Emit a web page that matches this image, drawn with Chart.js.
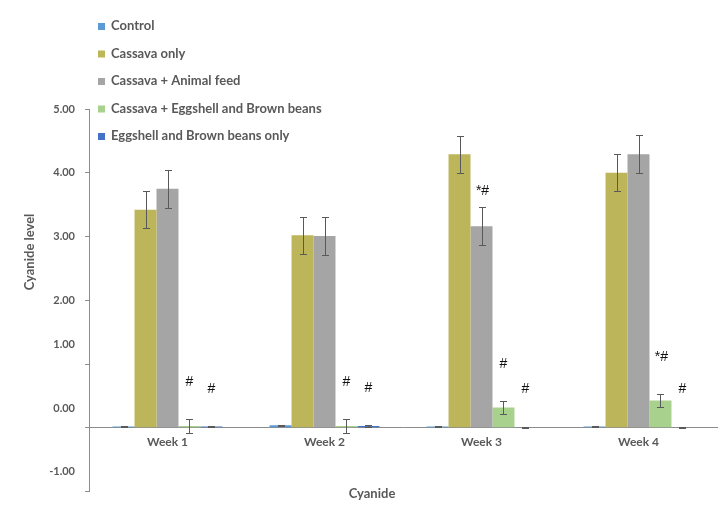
<!DOCTYPE html>
<html>
<head>
<meta charset="utf-8">
<title>Cyanide level</title>
<script src="https://cdn.jsdelivr.net/npm/chart.js@4.4.1/dist/chart.umd.min.js"></script>
<style>
  html, body { margin: 0; padding: 0; background: #fff; }
  #wrap { position: relative; width: 721px; height: 528px; }
</style>
</head>
<body>
<div id="wrap"><canvas id="cyanide-chart"></canvas></div>
<script>
// Cyanide level per group over four weeks (mean ± error)
const weeks = ['Week 1', 'Week 2', 'Week 3', 'Week 4'];
const groupNames = [
  'Control',
  'Cassava only',
  'Cassava + Animal feed',
  'Cassava + Eggshell and Brown beans',
  'Eggshell and Brown beans only'
];
const groupColors = ['#5b9bd5', '#bdb55a', '#a5a5a5', '#a9d18e', '#4472c4'];

const control = [0.02, 0.04, 0.02, 0.02];
const cassavaOnly = [3.42, 3.02, 4.29, 4.00];
const cassavaFeed = [3.75, 3.01, 3.16, 4.29];
const cassavaEggshell = [0.03, 0.03, 0.32, 0.43];
const eggshellOnly = [0.02, 0.03, 0.01, 0.01];

const controlErr = [0.01, 0.01, 0.01, 0.01];
const cassavaOnlyErr = [0.29, 0.29, 0.29, 0.29];
const cassavaFeedErr = [0.30, 0.30, 0.30, 0.30];
const cassavaEggshellErr = [0.11, 0.11, 0.10, 0.10];
const eggshellOnlyErr = [0.01, 0.01, 0.01, 0.01];

const yTicks = [-1, 0, 1, 2, 3, 4, 5];

// significance marks: week index, group index, text
const marks = [
  [0, 3, '#'], [0, 4, '#'],
  [1, 3, '#'], [1, 4, '#'],
  [2, 2, '*#'], [2, 3, '#'], [2, 4, '#'],
  [3, 3, '*#'], [3, 4, '#']
];

const values = [control, cassavaOnly, cassavaFeed, cassavaEggshell, eggshellOnly];
const errors = [controlErr, cassavaOnlyErr, cassavaFeedErr, cassavaEggshellErr, eggshellOnlyErr];

const textGrey = '#595959';
const axisGrey = '#8c8c8c';
const labelFont = { family: 'Lato', weight: 'bold', size: 12 };

const errorBars = {
  id: 'errorBars',
  afterDatasetsDraw(chart) {
    const y = chart.scales.y;
    const ctx = chart.ctx;
    ctx.save();
    ctx.strokeStyle = '#595959';
    ctx.lineWidth = 1;
    chart.data.datasets.forEach((ds, i) => {
      chart.getDatasetMeta(i).data.forEach((bar, j) => {
        const v = ds.data[j], e = errors[i][j];
        const top = Math.round(y.getPixelForValue(v + e)) + 0.5;
        const bot = Math.round(y.getPixelForValue(v - e)) + 0.5;
        const x = Math.round(bar.x) + 0.5;
        ctx.beginPath();
        ctx.moveTo(x, top); ctx.lineTo(x, bot);
        ctx.moveTo(x - 3.5, top); ctx.lineTo(x + 3.5, top);
        ctx.moveTo(x - 3.5, bot); ctx.lineTo(x + 3.5, bot);
        ctx.stroke();
      });
    });

    // marks above the bars; the tall feed bar gets a tighter gap
    ctx.fillStyle = '#111';
    ctx.font = '14px "Liberation Sans"';
    ctx.textAlign = 'center';
    ctx.textBaseline = 'middle';
    marks.forEach(([w, g, text]) => {
      const bar = chart.getDatasetMeta(g).data[w];
      const v = values[g][w] + errors[g][w];
      const lift = v > 1 ? 16 : 37;
      ctx.fillText(text, bar.x + (text.length > 1 ? 1 : 0), y.getPixelForValue(v) - lift);
    });
    ctx.restore();
  }
};

const legendAndTitles = {
  id: 'legendAndTitles',
  afterDraw(chart) {
    const ctx = chart.ctx;
    ctx.save();
    ctx.font = 'bold 13px Lato';
    ctx.textBaseline = 'middle';
    chart.data.datasets.forEach((ds, i) => {
      const cy = 26 + i * 27.5;
      ctx.fillStyle = ds.backgroundColor;
      ctx.fillRect(98, cy - 3, 7, 7);
      ctx.fillStyle = textGrey;
      ctx.textAlign = 'left';
      ctx.fillText(ds.label, 111, cy);
    });

    ctx.textAlign = 'center';
    ctx.fillText('Cyanide', 372, 494);
    ctx.translate(30, 252);
    ctx.rotate(-Math.PI / 2);
    ctx.fillText('Cyanide level', 0, 0);
    ctx.restore();
  }
};

new Chart(document.getElementById('cyanide-chart'), {
  type: 'bar',
  data: {
    labels: weeks,
    datasets: values.map((data, i) => ({
      label: groupNames[i],
      data: data,
      backgroundColor: groupColors[i],
      borderWidth: 0,
      categoryPercentage: 0.7,
      barPercentage: 1.0
    }))
  },
  options: {
    responsive: true,
    maintainAspectRatio: false,
    animation: false,
    layout: { padding: { left: 0, top: 109, right: 4, bottom: 35 } },
    plugins: {
      legend: { display: false },
      tooltip: { enabled: false }
    },
    scales: {
      x: {
        position: { y: 0 },
        grid: { display: false, drawTicks: false },
        border: { color: axisGrey },
        ticks: { color: textGrey, font: labelFont, padding: 7 }
      },
      y: {
        min: -1,
        max: 5,
        afterBuildTicks: (scale) => { scale.ticks = yTicks.map((v) => ({ value: v })); },
        afterFit: (scale) => { scale.width = 89; },
        grid: { drawOnChartArea: false, drawTicks: true, tickLength: 4, color: axisGrey },
        border: { color: axisGrey },
        ticks: {
          color: textGrey,
          font: { family: 'Lato', weight: 'bold', size: 11 },
          padding: 10,
          // the three lower labels ride a little above their tick marks
          callback: (v) => (v <= 1 ? [v.toFixed(2), '', '', ''] : v.toFixed(2))
        }
      }
    }
  },
  plugins: [errorBars, legendAndTitles]
});
</script>
</body>
</html>
